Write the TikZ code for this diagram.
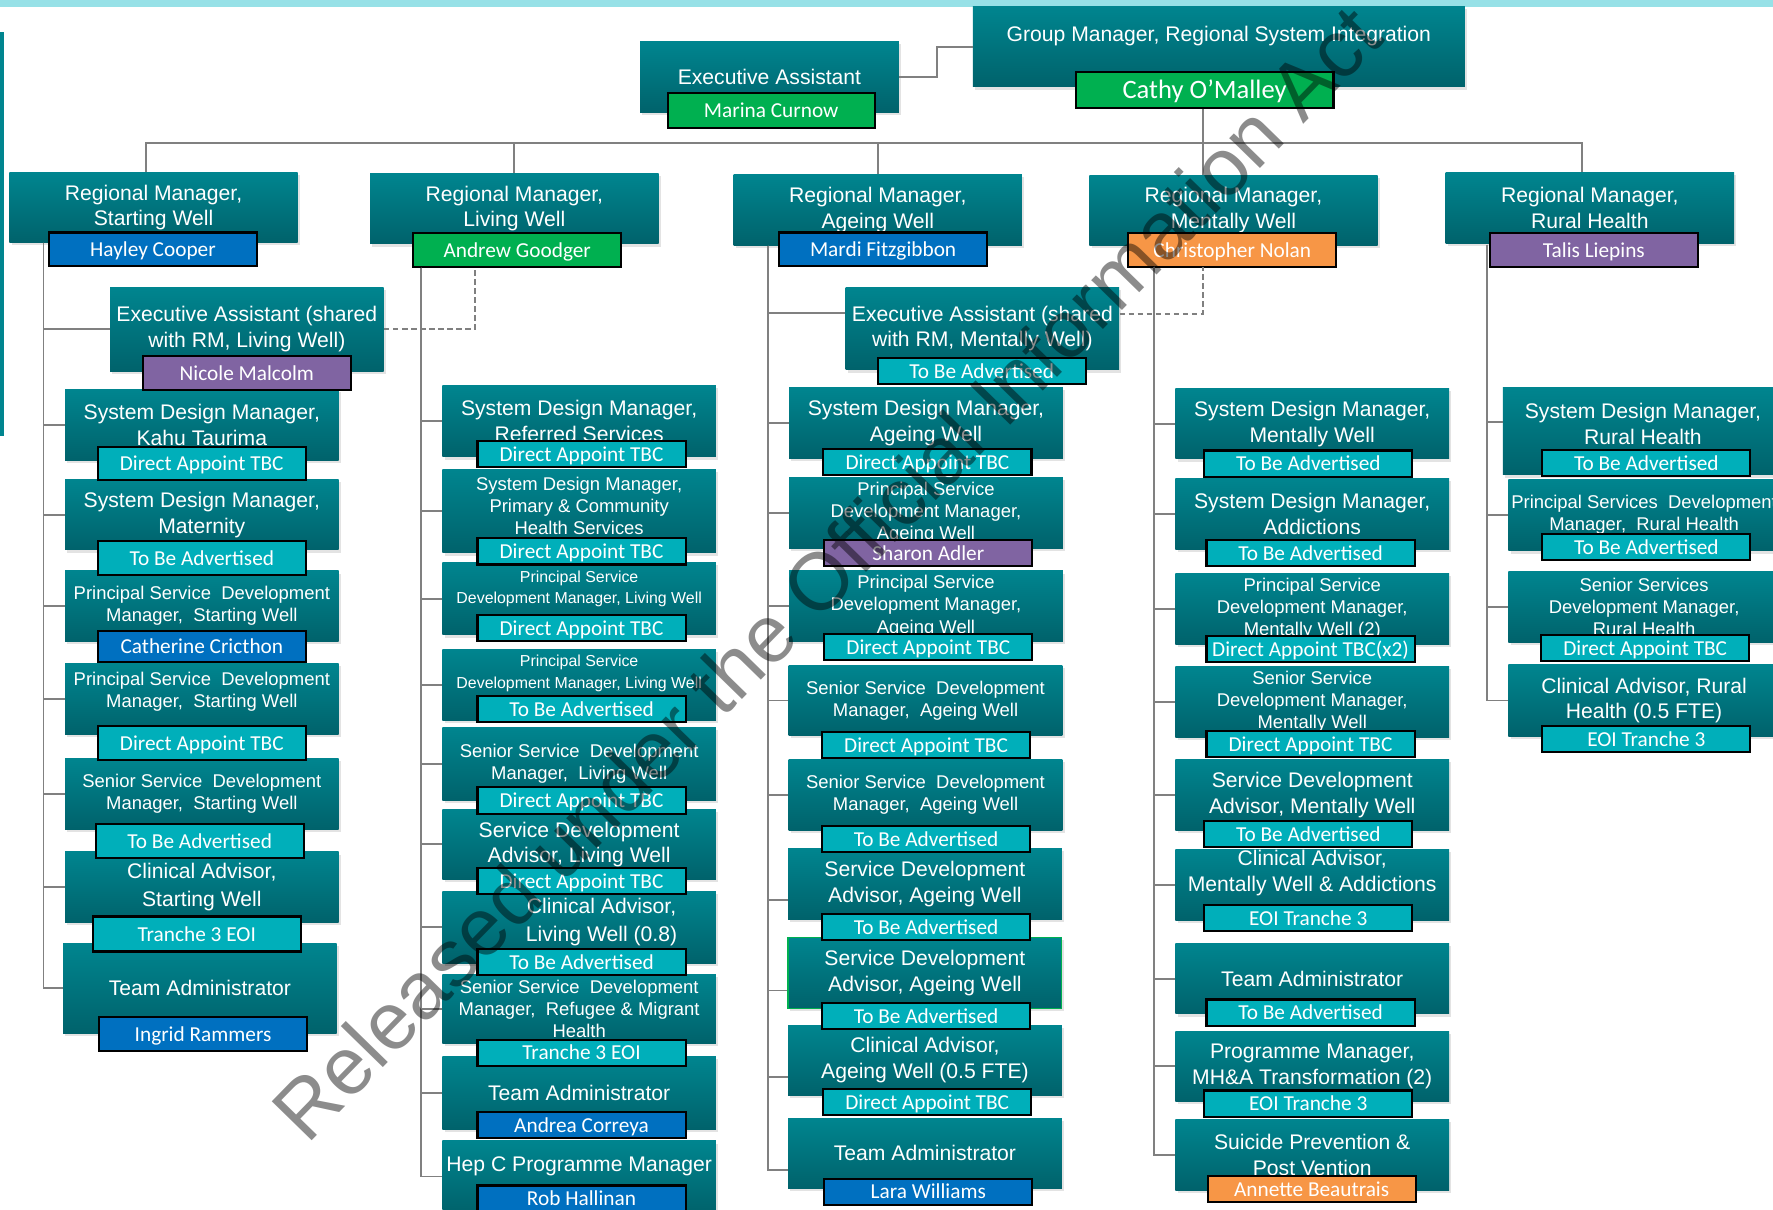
\documentclass[tikz,border=0pt]{standalone}
\usepackage{fontspec}
\setmainfont{Liberation Sans}
\newfontfamily\namefamily{Carlito}
\usetikzlibrary{shadows}

\definecolor{tealtop}{HTML}{00858F}
\definecolor{tealbot}{HTML}{00626B}
\definecolor{namecyan}{HTML}{00AFBA}
\definecolor{nameblue}{HTML}{0070C0}
\definecolor{namegreen}{HTML}{00B050}
\definecolor{nameorange}{HTML}{F79646}
\definecolor{namepurple}{HTML}{8064A2}
\definecolor{topbar}{HTML}{97E1E7}
\definecolor{frameteal}{HTML}{00858F}
\definecolor{linegray}{HTML}{808080}

\newcommand\rolefont{\fontsize{13.3}{16.2}\selectfont}
\newcommand\rolesmfont{\fontsize{11.6}{14}\selectfont}
\newcommand\roletnfont{\fontsize{10}{13.5}\selectfont}
\newcommand\personfont{\namefamily\fontsize{13.4}{15}\selectfont}

\tikzstyle{role} = [inner sep=0pt, align=center, text=white, top color=tealtop, bottom color=tealbot, minimum width=60.5mm, minimum height=15.6mm, font=\rolefont, drop shadow={opacity=0.22, shadow xshift=0.5mm, shadow yshift=-0.6mm}]
\tikzstyle{rolesm} = [role, font=\rolesmfont]
\tikzstyle{roletn} = [role, font=\roletnfont]
\tikzstyle{roletext} = [inner sep=0pt, align=center, text=white, font=\rolefont]
\tikzstyle{person} = [draw=black, line width=1.3pt, fill=namecyan, text=white, inner sep=0pt, minimum width=46mm, minimum height=5.8mm, text height=10.5pt, text depth=1.5pt, font=\personfont]
\tikzstyle{conn} = [draw=linegray, line width=1.2pt]
\tikzstyle{dashconn} = [conn, dash pattern=on 1.2mm off 0.8mm]
\tikzstyle{watermark} = [inner sep=0pt, anchor=base, rotate=45.7, text=black, text opacity=0.45, font=\fontsize{51}{51}\selectfont]

\begin{document}
\begin{tikzpicture}[x=.25mm, y=-.25mm]
  \useasboundingbox (0,0) rectangle (1568,1070);
  \fill[topbar] (0,0) rectangle (1568,6.5);
  \fill[frameteal] (0,28) rectangle (3.5,385.6);

  \node[role, minimum width=57.25mm, minimum height=15.75mm] (ea) at (680.5,68.2) {Executive Assistant};
  \node[role, minimum width=108.75mm, minimum height=17.75mm] (gm) at (1077.9,41.3) {};
  \node[roletext] (gmtext) at (1077.9,31.5) {Group Manager, Regional System Integration};

  \node[role, minimum width=63.75mm] (rmsw) at (135.8,183.5) {Regional Manager,\\Starting Well};
  \node[role, minimum width=63.75mm] (rmlw) at (454.9,184.5) {Regional Manager,\\Living Well};
  \node[role, minimum width=63.75mm] (rmaw) at (776.3,185.6) {Regional Manager,\\Ageing Well};
  \node[role, minimum width=63.75mm] (rmmw) at (1090.8,186) {Regional Manager,\\Mentally Well};
  \node[role, minimum width=63.75mm] (rmrh) at (1406,184) {Regional Manager,\\Rural Health};

  \node[role, minimum height=18.7mm] (easw) at (218.3,291.3) {Executive Assistant (shared\\with RM, Living Well)};
  \node[role] (kahu) at (178.5,375.8) {System Design Manager,\\Kahu Taurima};
  \node[role] (mat) at (178.5,455.2) {System Design Manager,\\Maternity};
  \node[rolesm] (pswa) at (178.5,536) {Principal Service\ \ Development\\Manager,\ \ Starting Well};
  \node[rolesm] (pswb) at (178.5,618.2) {};
  \node[roletext, font=\rolesmfont] (pswbtext) at (178.5,611.5) {Principal Service\ \ Development\\Manager,\ \ Starting Well};
  \node[rolesm] (ssw) at (178.5,702) {Senior Service\ \ Development\\Manager,\ \ Starting Well};
  \node[role, font=\fontsize{13.3}{17.3}\selectfont] (casw) at (178.5,784.5) {Clinical Advisor,\\Starting Well};
  \node[role, minimum height=20mm] (tasw) at (176.8,874) {Team Administrator};

  \node[role, minimum height=15.75mm] (sdmrs) at (512.2,372.5) {System Design Manager,\\Referred Services};
  \node[rolesm, minimum height=18.5mm] (sdmpc) at (512.2,451.9) {};
  \node[roletext, font=\fontsize{11.6}{13.9}\selectfont] (sdmpctext) at (512.2,447.6) {System Design Manager,\\Primary \& Community\\Health Services};
  \node[roletn, minimum height=16mm] (pslwa) at (512.2,529.5) {};
  \node[roletext, font=\roletnfont] (pslwatext) at (512.2,521) {Principal Service\\Development Manager, Living Well};
  \node[roletn, minimum height=15.75mm] (pslwb) at (512.2,605.5) {};
  \node[roletext, font=\roletnfont] (pslwbtext) at (512.2,595.5) {Principal Service\\Development Manager, Living Well};
  \node[rolesm, minimum height=16.25mm] (sslw) at (512.2,675.5) {Senior Service\ \ Development\\Manager,\ \ Living Well};
  \node[role] (sdalw) at (512.2,746.8) {Service Development\\Advisor, Living Well};
  \node[role, minimum height=15.9mm] (calw) at (512.2,820.2) {};
  \node[roletext, font=\fontsize{13.3}{17.7}\selectfont] (calwtext) at (532,815.5) {Clinical Advisor,\\Living Well (0.8)};
  \node[rolesm, minimum height=15.4mm, font=\fontsize{11.6}{13.6}\selectfont] (ssrm) at (512.2,892.2) {Senior Service\ \ Development\\Manager,\ \ Refugee \& Migrant\\Health};
  \node[role, minimum height=16.25mm] (talw) at (512.2,966.5) {Team Administrator};
  \node[role, minimum height=15.75mm] (hepc) at (512.2,1040.5) {};
  \node[roletext] (hepctext) at (512.2,1031.6) {Hep C Programme Manager};

  \node[role, minimum height=18.25mm] (eamw) at (868.8,290.6) {Executive Assistant (shared\\with RM, Mentally Well)};
  \node[role] (sdmaw) at (818.9,373.9) {System Design Manager,\\Ageing Well};
  \node[rolesm] (psawa) at (818.9,453.5) {Principal Service\\Development Manager,\\Ageing Well};
  \node[rolesm] (psawb) at (818.9,536) {Principal Service\\Development Manager,\\Ageing Well};
  \node[rolesm] (ssawa) at (818.5,619.5) {Senior Service\ \ Development\\Manager,\ \ Ageing Well};
  \node[rolesm] (ssawb) at (818.5,703) {Senior Service\ \ Development\\Manager,\ \ Ageing Well};
  \node[role] (sdawa) at (818,781.7) {Service Development\\Advisor, Ageing Well};
  \node[role, draw=namegreen, line width=0.8pt] (sdawb) at (818,860.4) {Service Development\\Advisor, Ageing Well};
  \node[role] (caaw) at (818,937.7) {Clinical Advisor,\\Ageing Well (0.5 FTE)};
  \node[role] (taaw) at (818,1020) {Team Administrator};

  \node[role] (sdmmw) at (1160.5,374.7) {System Design Manager,\\Mentally Well};
  \node[role] (sdmadd) at (1160.5,454.5) {System Design Manager,\\Addictions};
  \node[rolesm] (psmw) at (1160.5,538.4) {Principal Service\\Development Manager,\\Mentally Well (2)};
  \node[rolesm] (ssmw) at (1160.5,620.6) {Senior Service\\Development Manager,\\Mentally Well};
  \node[role] (sdamw) at (1160.5,703) {Service Development\\Advisor, Mentally Well};
  \node[role] (camw) at (1160.5,782.6) {};
  \node[roletext, font=\fontsize{13.3}{16}\selectfont] (camwtext) at (1160.5,771.9) {Clinical Advisor,\\Mentally Well \& Addictions};
  \node[role] (tamw) at (1160.5,865.5) {Team Administrator};
  \node[role] (pmmw) at (1160.5,943) {Programme Manager,\\MH\&A Transformation (2)};
  \node[role] (spmw) at (1160.5,1021.2) {Suicide Prevention \&\\Post Vention};

  \node[role, minimum width=61.9mm, minimum height=19.4mm] (sdmrh) at (1453,381.25) {};
  \node[roletext] (sdmrhtext) at (1453,374.7) {System Design Manager,\\Rural Health};
  \node[rolesm, minimum width=60mm, minimum height=15.8mm] (psrh) at (1454,455.5) {Principal Services\ \ Development\\Manager,\ \ Rural Health};
  \node[rolesm, minimum width=60mm] (ssrh) at (1454,536.8) {Senior Services\\Development Manager,\\Rural Health};
  \node[role, minimum width=60mm, minimum height=15.75mm] (carh) at (1454,619.5) {Clinical Advisor, Rural\\Health (0.5 FTE)};

  \node[person, fill=namegreen, minimum width=45.75mm, minimum height=7.6mm] (marina) at (682,97.7) {Marina Curnow};
  \node[person, fill=namegreen, minimum width=57mm, minimum height=8.1mm, text height=13pt, text depth=2pt, font={\namefamily\fontsize{16.7}{18}\selectfont}] (cathy) at (1065.3,79.6) {Cathy O’Malley};

  \node[person, fill=nameblue, minimum height=7.5mm] (hayley) at (135.3,220.6) {Hayley Cooper};
  \node[person, fill=namegreen, minimum height=7.5mm] (andrew) at (457.4,221.2) {Andrew Goodger};
  \node[person, fill=nameblue, minimum height=7.5mm] (mardi) at (781,220.6) {Mardi Fitzgibbon};
  \node[person, fill=nameorange, minimum height=7.5mm] (chris) at (1089.8,221) {Christopher Nolan};
  \node[person, fill=namepurple, minimum height=7.5mm] (talis) at (1409.6,221) {Talis Liepins};

  \node[person, fill=namepurple, minimum height=7.5mm] (nicole) at (218.3,329.9) {Nicole Malcolm};
  \node[person, minimum height=7.25mm] (kahun) at (178.4,410) {Direct Appoint TBC};
  \node[person, minimum height=7.5mm] (matn) at (178.5,493.5) {To Be Advertised};
  \node[person, fill=nameblue, minimum height=6.85mm] (pswan) at (178.5,571.4) {Catherine Cricthon};
  \node[person, minimum height=7.5mm] (pswbn) at (178.5,657) {Direct Appoint TBC};
  \node[person, minimum height=7.5mm] (sswn) at (176.6,743.9) {To Be Advertised};
  \node[person, minimum height=7.75mm] (caswn) at (174,826) {Tranche 3 EOI};
  \node[person, fill=nameblue, minimum height=7.5mm] (taswn) at (179.6,914.8) {Ingrid Rammers};

  \node[person] (sdmrsn) at (514.3,401.5) {Direct Appoint TBC};
  \node[person] (sdmpcn) at (514.3,487.6) {Direct Appoint TBC};
  \node[person] (pslwan) at (514.3,555.5) {Direct Appoint TBC};
  \node[person] (pslwbn) at (514.3,627) {To Be Advertised};
  \node[person] (sslwn) at (514.3,708) {Direct Appoint TBC};
  \node[person] (sdalwn) at (514.3,779) {Direct Appoint TBC};
  \node[person] (calwn) at (514.3,851) {To Be Advertised};
  \node[person] (ssrmn) at (514.3,931) {Tranche 3 EOI};
  \node[person, fill=nameblue] (talwn) at (514.3,995) {Andrea Correya};
  \node[person, fill=nameblue] (hepcn) at (514.3,1060) {Rob Hallinan};

  \node[person] (eamwn) at (868.2,328.2) {To Be Advertised};
  \node[person] (sdmawn) at (820.2,408.5) {Direct Appoint TBC};
  \node[person, fill=namepurple] (psawan) at (821,489) {Sharon Adler};
  \node[person] (psawbn) at (821,572.4) {Direct Appoint TBC};
  \node[person] (ssawan) at (819,659) {Direct Appoint TBC};
  \node[person] (ssawbn) at (819,742) {To Be Advertised};
  \node[person] (sdawan) at (819,820) {To Be Advertised};
  \node[person] (sdawbn) at (819,898.5) {To Be Advertised};
  \node[person] (caawn) at (820,974.7) {Direct Appoint TBC};
  \node[person, fill=nameblue] (taawn) at (821,1054) {Lara Williams};

  \node[person] (sdmmwn) at (1157,410) {To Be Advertised};
  \node[person] (sdmaddn) at (1159,489.3) {To Be Advertised};
  \node[person] (psmwn) at (1159,574.2) {Direct Appoint TBC(x2)};
  \node[person] (ssmwn) at (1159,658) {Direct Appoint TBC};
  \node[person] (sdamwn) at (1157,737.5) {To Be Advertised};
  \node[person] (camwn) at (1157,811.8) {EOI Tranche 3};
  \node[person] (tamwn) at (1159,895.5) {To Be Advertised};
  \node[person] (pmmwn) at (1157,976) {EOI Tranche 3};
  \node[person, fill=nameorange] (spmwn) at (1160,1051.4) {Annette Beautrais};

  \node[person] (sdmrhn) at (1456,409.5) {To Be Advertised};
  \node[person] (psrhn) at (1456,484) {To Be Advertised};
  \node[person] (ssrhn) at (1455,573.3) {Direct Appoint TBC};
  \node[person] (carhn) at (1456,653.7) {EOI Tranche 3};

  \coordinate (buswest) at (129.5,126.5);
  \coordinate (buseast) at (1399.3,126.5);
  \coordinate (gmx) at (1064,0);
  \coordinate (swtop) at (38.5,214.6);
  \coordinate (lwtop) at (372,236.7);
  \coordinate (awtop) at (679.4,217.3);
  \coordinate (mwtop) at (1020.5,235.8);
  \coordinate (rhtop) at (1315.3,216.5);
  \coordinate (lwdash) at (420,236.7);
  \coordinate (mwdash) at (1064,235.8);

  \draw[conn] (ea.east) -- ++(33.5,0) |- (gm.west);
  \draw[conn] (rmsw.north -| buswest) -- (buswest) -- (buseast) -- (rmrh.north -| buseast);
  \draw[conn] (rmlw.north) -- (rmlw.north |- buswest);
  \draw[conn] (rmaw.north) -- (rmaw.north |- buswest);
  \draw[conn] (cathy.south -| gmx) -- (rmmw.north -| gmx);

  \draw[conn] (swtop) |- (tasw.west);
  \draw[conn] (swtop) |- (easw.west);
  \draw[conn] (swtop) |- (kahu.west);
  \draw[conn] (swtop) |- (mat.west);
  \draw[conn] (swtop) |- (pswa.west);
  \draw[conn] (swtop) |- (pswb.west);
  \draw[conn] (swtop) |- (ssw.west);
  \draw[conn] (swtop) |- (casw.west);
  \draw[dashconn] (easw.east) -| (lwdash);

  \draw[conn] (lwtop) |- (hepc.west);
  \draw[conn] (lwtop) |- (sdmrs.west);
  \draw[conn] (lwtop) |- (sdmpc.west);
  \draw[conn] (lwtop) |- (pslwa.west);
  \draw[conn] (lwtop) |- (pslwb.west);
  \draw[conn] (lwtop) |- (sslw.west);
  \draw[conn] (lwtop) |- (sdalw.west);
  \draw[conn] (lwtop) |- (calw.west);
  \draw[conn] (lwtop) |- (ssrm.west);
  \draw[conn] (lwtop) |- (talw.west);

  \draw[conn] (awtop) |- ([yshift=-3.7mm]taaw.west);
  \draw[conn] (awtop) |- ([yshift=3.4mm]eamw.west);
  \draw[conn] (awtop) |- (sdmaw.west);
  \draw[conn] (awtop) |- (psawa.west);
  \draw[conn] (awtop) |- (psawb.west);
  \draw[conn] (awtop) |- (ssawa.west);
  \draw[conn] (awtop) |- (ssawb.west);
  \draw[conn] (awtop) |- ([yshift=-3.6mm]sdawa.west);
  \draw[conn] (awtop) |- ([yshift=-3.9mm]sdawb.west);
  \draw[conn] (awtop) |- ([yshift=-3.75mm]caaw.west);
  \draw[dashconn] ([yshift=3.3mm]eamw.east) -| (mwdash);

  \draw[conn] (mwtop) |- (spmw.west);
  \draw[conn] (mwtop) |- (sdmmw.west);
  \draw[conn] (mwtop) |- (sdmadd.west);
  \draw[conn] (mwtop) |- (psmw.west);
  \draw[conn] (mwtop) |- (ssmw.west);
  \draw[conn] (mwtop) |- (sdamw.west);
  \draw[conn] (mwtop) |- (camw.west);
  \draw[conn] (mwtop) |- (tamw.west);
  \draw[conn] (mwtop) |- (pmmw.west);

  \draw[conn] (rhtop) |- (carh.west);
  \draw[conn] (rhtop) |- ([yshift=2.1mm]sdmrh.west);
  \draw[conn] (rhtop) |- (psrh.west);
  \draw[conn] (rhtop) |- (ssrh.west);

  \node[watermark] (wm) at (748.8,524.3) {Released under the Official Information Act};
\end{tikzpicture}
\end{document}
